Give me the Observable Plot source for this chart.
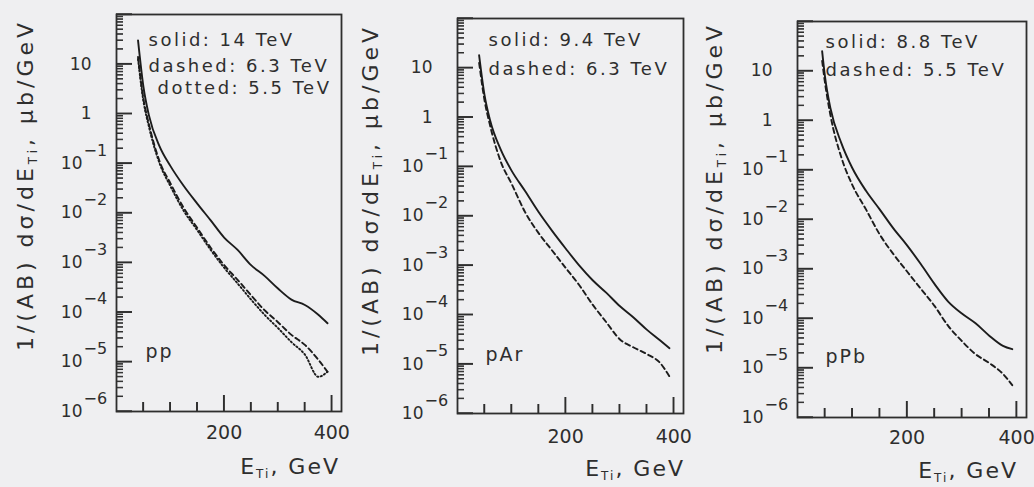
<!DOCTYPE html>
<html><head><meta charset="utf-8">
<script src="https://cdn.jsdelivr.net/npm/d3@7"></script>
<script src="https://cdn.jsdelivr.net/npm/@observablehq/plot@0.6"></script>
<style>
html,body{margin:0;padding:0;background:#efeff1;}
#wrap{position:relative;width:1034px;height:487px;overflow:hidden;}
#wrap > div{position:absolute;top:0;}
#wrap svg{overflow:visible;}
#ticks{position:absolute;left:0;top:0;z-index:10;pointer-events:none;}
</style></head><body><div id="wrap"></div>
<script>
// ---- data ----
const energy   = [40, 50, 60, 80, 100, 125, 150, 175, 200, 225, 250, 275, 300, 325, 350, 375, 392];
const energyPb = [45, 50, 60, 80, 100, 125, 150, 175, 200, 225, 250, 275, 300, 325, 350, 375, 392];

const ppSolid  = [30, 3.5, 0.95, 0.22, 0.089, 0.035, 0.0155, 0.0071, 0.0032, 0.0018, 8.9e-4, 5.4e-4, 3.0e-4, 1.8e-4, 1.4e-4, 8.9e-5, 6.0e-5];
const ppDashed = [14, 2.0, 0.63, 0.11, 0.04, 0.0126, 0.005, 0.002, 8.9e-4, 4.5e-4, 2.2e-4, 1.1e-4, 6.3e-5, 3.5e-5, 2.2e-5, 1.1e-5, 6.3e-6];
const ppDotted = [12.6, 1.8, 0.56, 0.1, 0.035, 0.011, 0.0045, 0.0018, 7.9e-4, 3.8e-4, 1.8e-4, 8.9e-5, 4.8e-5, 2.5e-5, 1.4e-5, 5.0e-6, 6.3e-6];

const pArSolid  = [18, 2.8, 0.89, 0.22, 0.083, 0.032, 0.012, 0.005, 0.0022, 1.0e-3, 5.0e-4, 2.8e-4, 1.5e-4, 8.9e-5, 5.0e-5, 3.0e-5, 2.1e-5];
const pArDashed = [12.6, 2.2, 0.7, 0.126, 0.045, 0.012, 0.0045, 0.002, 8.9e-4, 4.0e-4, 1.6e-4, 7.1e-5, 3.2e-5, 2.2e-5, 1.6e-5, 1.05e-5, 5.6e-6];

const pPbSolid  = [25, 8, 1.8, 0.35, 0.11, 0.038, 0.016, 0.0066, 0.003, 0.00126, 5.0e-4, 2.2e-4, 1.26e-4, 8.0e-5, 4.5e-5, 2.8e-5, 2.4e-5];
const pPbDashed = [16, 6, 1.3, 0.18, 0.05, 0.016, 0.005, 0.002, 8.9e-4, 4.0e-4, 1.8e-4, 7.1e-5, 3.5e-5, 1.9e-5, 1.26e-5, 7.6e-6, 4.5e-6];

const panelNames = ["pp", "pAr", "pPb"];
const legendPP  = ["solid: 14 TeV", "dashed: 6.3 TeV", "dotted: 5.5 TeV"];
const legendPAr = ["solid: 9.4 TeV", "dashed: 6.3 TeV"];
const legendPPb = ["solid: 8.8 TeV", "dashed: 5.5 TeV"];

const yTickValues = [10, 1, 1e-1, 1e-2, 1e-3, 1e-4, 1e-5, 1e-6];
const yTickBase   = ["10", "1", "10", "10", "10", "10", "10", "10"];
const yTickExp    = ["", "", "−1", "−2", "−3", "−4", "−5", "−6"];
const xMajor = [200, 400];
const xMinor = [50, 100, 150, 250, 300, 350];
const xTickLabels = ["200", "400"];

// ---- drawing ----
const yMinor = [];
for (let k = -6; k <= 1; k++) for (let m = 2; m <= 9; m++) yMinor.push(m * Math.pow(10, k));
const yMajor = yTickValues.concat([100]);

const FONT = "DejaVu Sans";
const INK = "#2e2e2e";
const H = 487;
const X_DOMAIN = [0, 418];
const Y_DOMAIN = [1e-6, 1e2];

const panels = [
  {name: panelNames[0], left: 0, width: 350, ml: 116, mr: 9, mt: 14, mb: 76,
   series: [{E: energy, v: ppSolid, dash: null}, {E: energy, v: ppDashed, dash: "5,3.5"}, {E: energy, v: ppDotted, dash: "1.3,2.4"}],
   legend: legendPP, legDx: [32, 32, 41], legDy: [19, 45, 67], nameDx: 29, nameDy: -54,
   ytx: 27, yty: 185, xtx: 340, xty: 474, xPad: 14},
  {name: panelNames[1], left: 345, width: 345, ml: 112, mr: 7, mt: 18, mb: 74,
   series: [{E: energy, v: pArSolid, dash: null}, {E: energy, v: pArDashed, dash: "5,3.5"}],
   legend: legendPAr, legDx: [31, 31], legDy: [15, 44], nameDx: 28, nameDy: -53,
   ytx: 27, yty: 190, xtx: 340, xty: 476, xPad: 16},
  {name: panelNames[2], left: 690, width: 344, ml: 107, mr: 8, mt: 21, mb: 70,
   series: [{E: energyPb, v: pPbSolid, dash: null}, {E: energyPb, v: pPbDashed, dash: "5,3.5"}],
   legend: legendPPb, legDx: [28, 28], legDy: [14, 42], nameDx: 28, nameDy: -55,
   ytx: 26, yty: 188, xtx: 328, xty: 478, xPad: 13}
];

const yt = yTickValues.map((v, i) => ({v, base: yTickBase[i], exp: yTickExp[i]}));
const xt = xMajor.map((v, i) => ({v, label: xTickLabels[i]}));

const wrap = document.getElementById("wrap");
const tickJobs = [];

for (const cfg of panels) {
  const pw = cfg.width - cfg.ml - cfg.mr;
  const ph = H - cfg.mt - cfg.mb;
  const marks = [
    Plot.tickY(yMinor, {y: d => d, insetRight: pw - 7, stroke: INK, strokeWidth: 1}),
    Plot.tickY(yMajor, {y: d => d, insetRight: pw - 16, stroke: INK, strokeWidth: 1.4}),
    Plot.tickX(xMinor, {x: d => d, insetTop: ph - 9, stroke: INK, strokeWidth: 1.4}),
    Plot.tickX(xMajor, {x: d => d, insetTop: ph - 16, stroke: INK, strokeWidth: 1.4}),
    Plot.text(xt, {x: "v", text: "label", frameAnchor: "bottom", lineAnchor: "top", dy: cfg.xPad, fontSize: 19, fill: INK}),
    Plot.frame({stroke: INK, strokeWidth: 1.8, fill: "none"}),
    Plot.text(yt.filter(d => d.exp === ""), {y: "v", text: "base", frameAnchor: "left", textAnchor: "end", dx: -25, fontSize: 17, fill: INK}),
    Plot.text(yt.filter(d => d.exp !== ""), {y: "v", text: "base", frameAnchor: "left", textAnchor: "end", dx: -34, fontSize: 17, fill: INK}),
    Plot.text(yt.filter(d => d.exp !== ""), {y: "v", text: "exp", frameAnchor: "left", textAnchor: "start", dx: -33, dy: -13, fontSize: 16, fill: INK}),
    ...cfg.series.map(s => Plot.line(s.E.map((e, i) => ({E: e, v: s.v[i]})), {
      x: "E", y: "v", curve: "monotone-x", stroke: "#1c1c1c", strokeWidth: 1.9,
      ...(s.dash ? {strokeDasharray: s.dash} : {})
    })),
    ...cfg.legend.map((t, i) => Plot.text([t], {text: d => d, frameAnchor: "top-left", textAnchor: "start",
      dx: cfg.legDx[i], dy: cfg.legDy[i], fontSize: 18, fill: INK})),
    Plot.text([cfg.name], {text: d => d, frameAnchor: "bottom-left", textAnchor: "start",
      dx: cfg.nameDx, dy: cfg.nameDy, fontSize: 19, fill: INK})
  ];

  const svg = Plot.plot({
    width: cfg.width, height: H,
    marginLeft: cfg.ml, marginRight: cfg.mr, marginTop: cfg.mt, marginBottom: cfg.mb,
    style: {background: "transparent", color: INK, fontFamily: FONT, overflow: "visible"},
    x: {domain: X_DOMAIN, label: null, axis: null},
    y: {type: "log", domain: Y_DOMAIN, label: null, axis: null},
    marks
  });

  svg.querySelectorAll("text").forEach(t => {
    if (cfg.legend.includes(t.textContent)) t.style.letterSpacing = "2.5px";
    if (t.textContent === cfg.name) t.style.letterSpacing = "2px";
  });

  const s = d3.select(svg);
  const yTitle = s.append("text")
    .attr("transform", `translate(${cfg.ytx},${cfg.yty}) rotate(-90)`)
    .attr("text-anchor", "middle").attr("dominant-baseline", "middle")
    .attr("font-family", FONT).attr("font-size", 22).attr("fill", INK)
    .style("letter-spacing", "4px");
  yTitle.append("tspan").text("1/(AB) dσ/dE");
  yTitle.append("tspan").attr("font-size", 12).attr("dy", 6).text("Ti");
  yTitle.append("tspan").attr("dy", -6).text(", μb/GeV");
  const xTitle = s.append("text")
    .attr("x", cfg.xtx).attr("y", cfg.xty)
    .attr("text-anchor", "end")
    .attr("font-family", FONT).attr("font-size", 22).attr("fill", INK)
    .style("letter-spacing", "2px");
  xTitle.append("tspan").text("E");
  xTitle.append("tspan").attr("font-size", 12).attr("dy", 4).text("Ti");
  xTitle.append("tspan").attr("dy", -4).text(", GeV");

  const div = document.createElement("div");
  div.style.left = cfg.left + "px";
  div.appendChild(svg);
  wrap.appendChild(div);

  // positions from the plot's own scales (fallback: same domain/range)
  let fx, fy;
  try {
    const sx = svg.scale("x"), sy = svg.scale("y");
    fx = v => sx.apply(v); fy = v => sy.apply(v);
    if (!isFinite(fx(200)) || !isFinite(fy(1))) throw 0;
  } catch (e) {
    const lx = d3.scaleLinear(X_DOMAIN, [cfg.ml, cfg.width - cfg.mr]);
    const ly = d3.scaleLog(Y_DOMAIN, [H - cfg.mb, cfg.mt]);
    fx = v => lx(v); fy = v => ly(v);
  }
  tickJobs.push({cfg, fx, fy});
}

// overlay with the inward axis ticks (left and bottom edges of every frame)
const ov = d3.create("svg").attr("id", "ticks").attr("width", 1034).attr("height", H)
  .attr("viewBox", `0 0 1034 ${H}`);
const gt = ov.append("g").attr("stroke", INK).attr("fill", "none");
for (const {cfg, fx, fy} of tickJobs) {
  const x0 = cfg.left + cfg.ml, yb = H - cfg.mb;
  for (const [vals, len, w] of [[yMinor, 7, 1], [yMajor, 16, 1.4]]) {
    for (const v of vals) {
      const py = fy(v);
      gt.append("line").attr("x1", x0).attr("x2", x0 + len).attr("y1", py).attr("y2", py).attr("stroke-width", w);
    }
  }
  for (const [vals, len, w] of [[xMinor, 9, 1.4], [xMajor, 16, 1.4]]) {
    for (const v of vals) {
      const px = cfg.left + fx(v);
      gt.append("line").attr("x1", px).attr("x2", px).attr("y1", yb).attr("y2", yb - len).attr("stroke-width", w);
    }
  }
}
wrap.appendChild(ov.node());
</script>
</body></html>
